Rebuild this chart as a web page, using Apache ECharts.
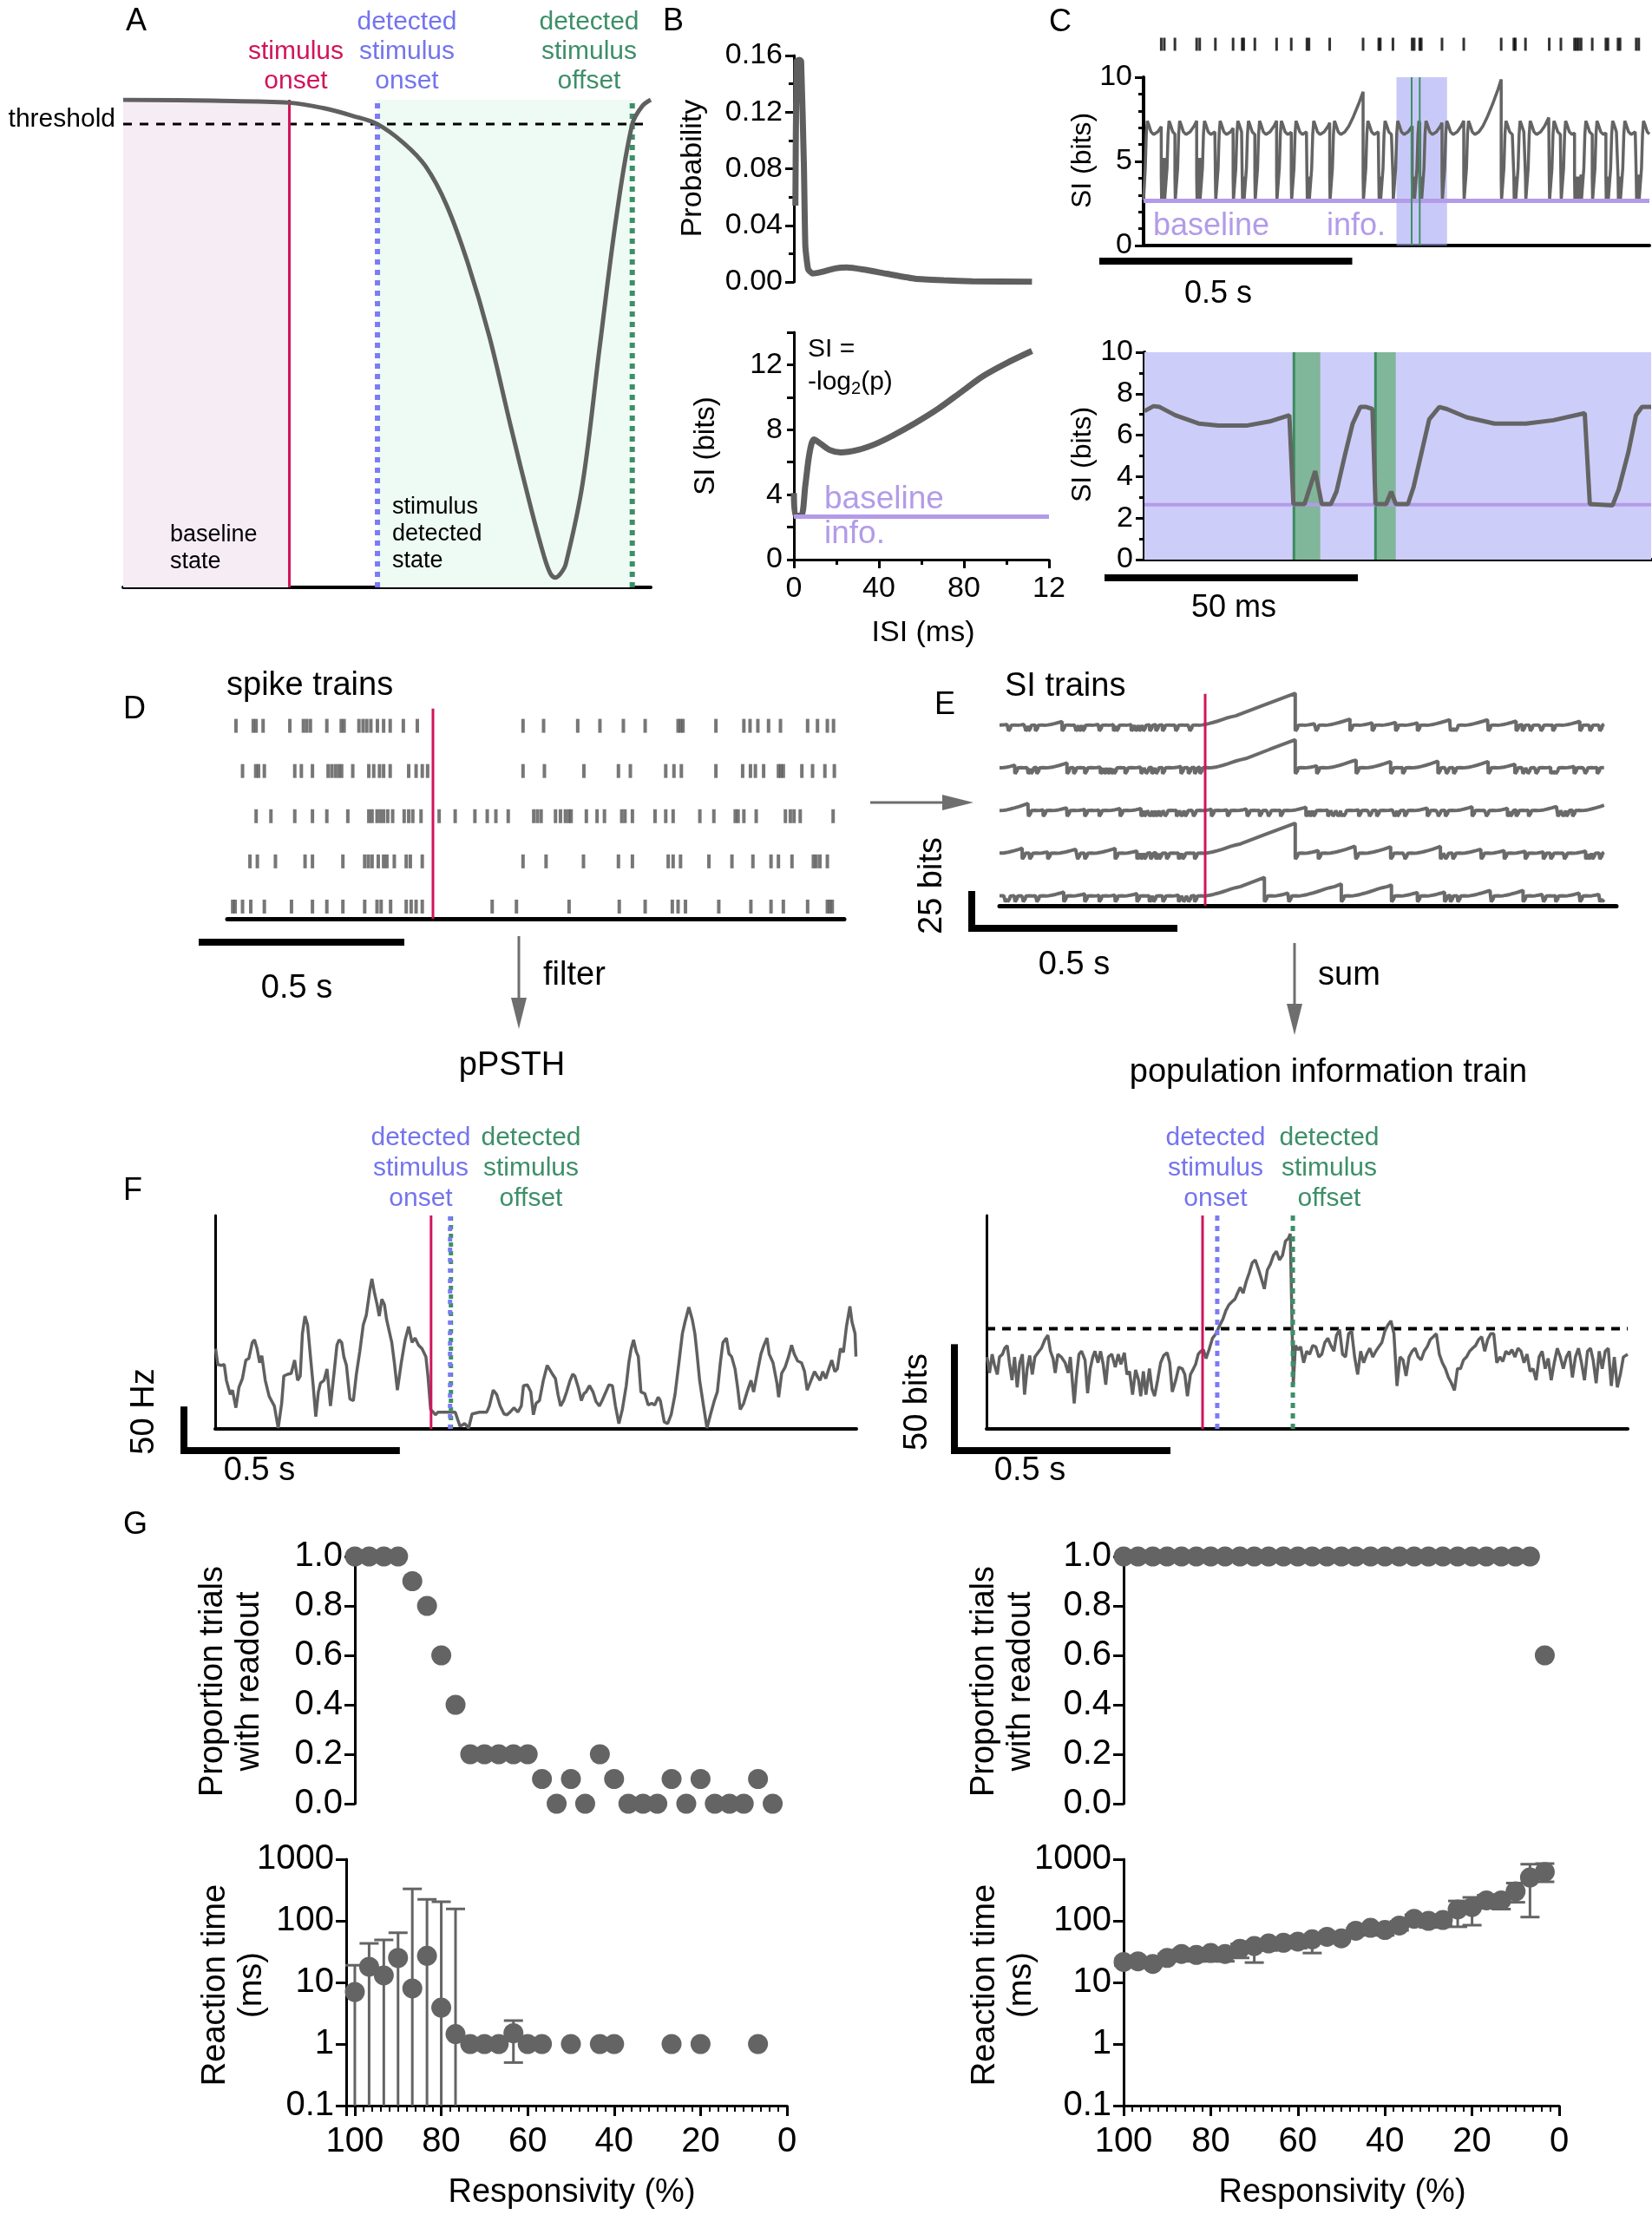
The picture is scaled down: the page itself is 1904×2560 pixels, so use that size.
<!DOCTYPE html>
<html><head><meta charset="utf-8"><title>Information readout figure</title>
<script src="https://cdn.jsdelivr.net/npm/echarts@6.0.0/dist/echarts.min.js"></script>
<style>html,body{margin:0;padding:0;background:#fff;}#chart{width:1904px;height:2560px;}</style>
</head><body><div id="chart"></div>
<script>
// ================= DATA =================
// Panel A: schematic information signal (x: arbitrary time 0-100, y: 0 = bottom, 1 = resting level)
const aTime   = [0, 16.9, 31.5, 37.9, 43.5, 48.2, 53.2, 57.3, 61.3, 65.3, 69.4, 73.4, 77.4, 79.8, 81.0, 81.9, 82.9, 83.9, 87.1, 90.3, 93.5, 96.5, 98.4, 100];
const aSignal = [1.0, 0.998, 0.994, 0.983, 0.967, 0.95, 0.911, 0.864, 0.784, 0.666, 0.515, 0.333, 0.158, 0.063, 0.028, 0.02, 0.028, 0.048, 0.214, 0.491, 0.761, 0.95, 0.987, 1.0];
const aThreshold = 0.95;
const aStimOnset = 31.5, aDetOnset = 48.2, aDetOffset = 96.5;

// Panel B: ISI probability and surprisal (SI) curves
const bIsiMs = [0.7, 1.3, 2.7, 3.4, 4.7, 5.4, 6.7, 8.7, 12.8, 19.5, 24.8, 32.9, 43.6, 57, 70.5, 84, 112];
const bProb  = [0.054, 0.156, 0.157, 0.156, 0.083, 0.025, 0.009, 0.006, 0.007, 0.0096, 0.0102, 0.0087, 0.0058, 0.0023, 0.0012, 0.0005, 0.0001];
const bSiIsiMs = [0, 0.7, 3.4, 5.4, 7.4, 9.4, 11.4, 16.8, 22, 30, 38, 46, 57, 68, 78.5, 89, 100, 112];
const bSiBits  = [4.1, 2.7, 2.7, 4.6, 6.6, 7.4, 7.25, 6.75, 6.6, 6.75, 7.1, 7.6, 8.4, 9.3, 10.3, 11.3, 12.1, 12.85];
// longer ISIs, read from the ramps of the SI trains in panel E
const longIsiMs = [170, 260];
const longSiBits = [19, 28.3];
const baselineInfo = 2.65;

// Panel C: spike raster (s) and zoomed SI train (ms, bits)
const cSpikes = [0.035, 0.041, 0.062, 0.105, 0.111, 0.142, 0.177, 0.195, 0.198, 0.220, 0.263, 0.292, 0.323, 0.327, 0.368, 0.434, 0.465, 0.468, 0.493, 0.531, 0.535, 0.546, 0.549, 0.590, 0.633, 0.707, 0.732, 0.735, 0.755, 0.802, 0.825, 0.852, 0.856, 0.860, 0.865, 0.887, 0.914, 0.918, 0.938, 0.942, 0.974, 0.979];
const cWindow = [0.5, 0.6];
const cGreenTimes = [0.530, 0.546];
const cZoomTrace = [[0,7.16],[1.8,7.4],[3,7.36],[6.1,6.96],[10.7,6.56],[14.6,6.46],[20.1,6.46],[24.7,6.66],[28.6,6.96],[29.4,2.68],[31.6,2.68],[33.7,4.27],[35.0,2.68],[36.8,2.68],[37.9,3.28],[39.5,4.97],[41.1,6.56],[42.6,7.36],[43.8,7.36],[45.0,7.26],[45.6,2.68],[47.7,2.68],[48.7,3.28],[49.6,2.68],[52.0,2.68],[53.1,3.48],[54.7,5.17],[56.2,6.76],[58.2,7.36],[59.7,7.26],[63.6,6.86],[69.1,6.56],[75.3,6.56],[80.7,6.72],[86.9,7.06],[87.9,2.68],[92.4,2.62],[93.6,3.38],[95.5,5.17],[97.0,6.96],[98.2,7.36],[100,7.36]];
const cGreenBars = [[29.5, 34.7], [45.6, 49.6]];

// Panel D: spike trains (s), five neurons; stimulus onset at 0.5 s
const dRow1 = [0.021,0.063,0.070,0.087,0.152,0.185,0.193,0.202,0.242,0.277,0.284,0.320,0.330,0.339,0.349,0.365,0.380,0.396,0.428,0.462,0.719,0.769,0.852,0.906,0.963,1.016,1.096,1.102,1.108,1.188,1.256,1.271,1.290,1.316,1.345,1.411,1.435,1.459,1.474];
const dRow2 = [0.037,0.069,0.076,0.090,0.164,0.180,0.207,0.245,0.254,0.263,0.271,0.278,0.305,0.344,0.356,0.370,0.380,0.396,0.441,0.459,0.474,0.487,0.719,0.771,0.867,0.951,0.980,1.066,1.086,1.104,1.188,1.253,1.272,1.284,1.304,1.340,1.346,1.352,1.397,1.423,1.453,1.476];
const dRow3 = [0.070,0.106,0.164,0.207,0.242,0.293,0.344,0.352,0.364,0.372,0.380,0.390,0.402,0.430,0.441,0.451,0.471,0.515,0.554,0.602,0.632,0.653,0.683,0.745,0.754,0.763,0.798,0.810,0.822,0.830,0.836,0.873,0.899,0.917,0.959,0.967,0.985,1.040,1.066,1.084,1.149,1.183,1.235,1.242,1.256,1.286,1.357,1.369,1.378,1.393,1.473];
const dRow4 = [0.055,0.073,0.117,0.189,0.207,0.281,0.334,0.343,0.352,0.367,0.380,0.388,0.406,0.435,0.445,0.474,0.719,0.775,0.866,0.951,0.985,1.072,1.084,1.102,1.171,1.227,1.278,1.322,1.340,1.373,1.425,1.432,1.441,1.459];
const dRow5 = [0.013,0.019,0.037,0.057,0.090,0.156,0.207,0.242,0.281,0.334,0.364,0.374,0.397,0.435,0.447,0.459,0.474,0.644,0.703,0.831,0.953,1.016,1.082,1.096,1.114,1.195,1.273,1.322,1.352,1.411,1.459,1.465,1.471];
const stimOnsetS = 0.5;

// Panel F: pPSTH (ms, Hz) and population information train (ms, bits)
const fPsth = [[1,91],[6,73],[14,72],[21,73],[26,55],[35,39],[40,44],[48,24],[55,47],[63,57],[71,78],[78,80],[86,98],[91,101],[97,91],[103,75],[108,83],[116,55],[125,37],[137,26],[146,1],[154,29],[159,60],[168,62],[176,63],[184,78],[191,55],[197,60],[202,108],[208,128],[214,118],[222,75],[227,49],[233,14],[239,42],[244,52],[252,55],[259,68],[267,26],[275,62],[282,95],[287,101],[293,98],[298,82],[304,72],[312,34],[320,32],[327,62],[335,88],[343,118],[350,129],[358,157],[363,170],[369,154],[375,141],[380,128],[386,147],[392,141],[397,124],[403,111],[409,98],[415,75],[422,44],[431,75],[440,101],[448,116],[456,98],[463,103],[471,95],[479,91],[488,82],[493,59],[499,22],[505,19],[510,16],[516,19],[544,19],[556,19],[567,3],[578,6],[587,1],[595,17],[612,19],[629,19],[635,26],[644,44],[652,39],[660,26],[669,17],[676,16],[683,19],[692,24],[701,19],[709,26],[714,49],[723,50],[731,42],[737,16],[743,29],[751,32],[760,55],[769,72],[774,68],[780,63],[788,57],[794,39],[800,26],[807,32],[814,42],[822,55],[828,62],[833,60],[841,47],[848,32],[854,40],[859,42],[867,49],[875,42],[882,31],[890,26],[896,32],[905,42],[912,50],[920,49],[927,26],[935,6],[943,22],[952,49],[958,75],[963,90],[969,101],[975,88],[980,82],[986,42],[995,40],[1003,27],[1011,29],[1018,27],[1026,36],[1031,32],[1040,8],[1048,6],[1056,16],[1065,39],[1074,75],[1082,108],[1088,121],[1097,138],[1105,124],[1111,108],[1116,85],[1122,55],[1131,26],[1139,1],[1147,16],[1156,32],[1163,42],[1170,75],[1176,98],[1184,103],[1190,85],[1196,82],[1204,68],[1210,47],[1216,22],[1224,29],[1232,42],[1241,55],[1247,42],[1256,65],[1264,85],[1271,95],[1278,103],[1283,85],[1292,75],[1301,52],[1305,36],[1312,63],[1320,70],[1328,82],[1335,95],[1341,85],[1349,77],[1358,75],[1365,65],[1371,44],[1380,55],[1388,65],[1394,60],[1401,55],[1407,65],[1414,57],[1421,68],[1428,78],[1435,65],[1441,68],[1448,91],[1455,87],[1462,116],[1470,139],[1475,121],[1482,108],[1484,82]];
const fInfo = [[1,33.8],[7,26.3],[13,35.1],[18,30.4],[25,25.6],[30,33.8],[37,35.1],[42,37.9],[48,39.2],[53,31.1],[59,22.9],[65,33.8],[71,19.5],[77,31.1],[83,35.1],[88,16.1],[94,28.3],[100,34.5],[106,25.6],[112,33.8],[119,35.8],[127,37.9],[135,41.9],[142,44.0],[148,36.5],[154,33.1],[159,26.3],[165,35.1],[173,33.8],[182,31.1],[189,26.3],[194,33.8],[203,12.0],[208,24.2],[214,35.1],[220,36.5],[228,32.4],[234,16.8],[240,28.3],[246,33.8],[251,36.5],[258,31.1],[264,36.5],[270,30.4],[276,20.8],[282,33.8],[290,35.1],[298,29.0],[305,35.1],[311,30.4],[319,35.8],[325,25.6],[331,27.0],[338,16.1],[345,27.7],[352,22.9],[357,15.4],[363,27.0],[369,16.1],[377,28.3],[383,18.8],[389,15.4],[396,22.9],[403,31.1],[410,34.5],[418,35.8],[424,31.1],[430,17.4],[438,22.9],[445,29.0],[453,28.3],[459,25.6],[465,15.4],[472,25.6],[479,28.3],[484,30.4],[490,35.1],[496,36.5],[502,37.2],[508,33.1],[515,37.2],[523,42.6],[531,44.7],[540,48.8],[547,51.5],[554,55.6],[561,58.3],[568,59.7],[575,61.0],[581,63.8],[587,66.5],[594,63.8],[601,69.2],[608,73.3],[615,78.1],[622,79.4],[629,75.3],[636,70.6],[643,65.8],[650,74.7],[657,77.4],[664,81.5],[671,83.5],[678,79.4],[685,81.5],[692,88.3],[699,89.6],[703,91.7],[707,92.4],[710,20.8],[715,39.2],[721,37.2],[727,38.6],[734,31.1],[741,36.5],[748,35.1],[755,39.2],[762,38.6],[769,33.8],[776,35.1],[783,40.6],[790,42.6],[797,39.2],[804,36.5],[810,44.0],[817,46.7],[824,35.1],[831,33.8],[838,44.7],[845,46.0],[852,33.8],[859,25.6],[866,36.5],[873,31.1],[880,35.1],[887,37.9],[894,33.8],[901,36.5],[908,38.6],[915,40.6],[922,46.0],[929,48.8],[936,50.8],[943,44.7],[950,20.2],[957,33.8],[964,32.4],[971,24.9],[978,33.8],[985,36.5],[992,37.9],[999,33.8],[1006,32.4],[1013,36.5],[1020,38.6],[1027,42.0],[1034,43.3],[1041,44.7],[1048,35.1],[1055,31.1],[1062,28.3],[1069,24.2],[1076,21.5],[1083,18.1],[1090,28.3],[1097,28.3],[1104,32.4],[1111,33.8],[1118,36.5],[1125,37.9],[1132,39.2],[1139,42.0],[1146,43.3],[1153,36.5],[1160,42.0],[1167,44.7],[1174,44.7],[1181,31.1],[1188,33.8],[1195,31.7],[1202,36.5],[1209,35.1],[1216,37.2],[1223,33.8],[1230,37.9],[1237,36.5],[1244,31.1],[1251,35.1],[1258,27.0],[1265,28.3],[1272,22.9],[1279,33.8],[1286,36.5],[1293,28.3],[1300,33.1],[1307,22.9],[1314,31.1],[1321,37.9],[1328,33.8],[1335,28.3],[1342,33.8],[1349,36.5],[1356,24.2],[1363,33.8],[1370,37.9],[1377,31.1],[1384,22.9],[1391,36.5],[1398,37.9],[1404,32.4],[1411,21.5],[1418,36.5],[1425,28.3],[1432,36.5],[1439,37.9],[1446,20.2],[1453,33.8],[1460,19.5],[1467,25.6],[1474,33.8],[1484,35.1]];
const fOnsetMs = 500;
const fPsthDetOn = 544, fPsthDetOff = 546;
const fInfoDetOn = 534, fInfoDetOff = 709, fInfoThreshold = 47.1;

// Panel G: readout vs responsivity
const gResp = [100, 96.7, 93.3, 90, 86.7, 83.3, 80, 76.7, 73.3, 70, 66.7, 63.3, 60, 56.7, 53.3, 50, 46.7, 43.3, 40, 36.7, 33.3, 30, 26.7, 23.3, 20, 16.7, 13.3, 10, 6.7, 3.3];
const gPropPsth = [1,1,1,1,0.9,0.8,0.6,0.4,0.2,0.2,0.2,0.2,0.2,0.1,0,0.1,0,0.2,0.1,0,0,0,0.1,0,0.1,0,0,0,0.1,0];
const gPropInfo = [1,1,1,1,1,1,1,1,1,1,1,1,1,1,1,1,1,1,1,1,1,1,1,1,1,1,1,1,1,0.6];
const gRtPsth     = [7, 18, 13, 25, 8, 27, 3.9, 1.45, 1, 1, 1, 1.5, 1, 1, null, 1, null, 1, 1, null, null, null, 1, null, 1, null, null, null, 1, null];
const gRtPsthLow  = [0.1, 0.1, 0.1, 0.1, 0.1, 0.1, 0.1, 0.1, null, null, null, 0.5, null, null, null, null, null, null, null, null, null, null, null, null, null, null, null, null, null, null];
const gRtPsthHigh = [19, 43, 49, 64, 330, 223, 204, 156, null, null, null, 2.4, null, null, null, null, null, null, null, null, null, null, null, null, null, null, null, null, null, null];
const gRtInfo     = [21.5, 22, 20, 25, 29, 28, 30, 29, 35, 39, 43, 44, 46, 50, 55, 52, 69, 77, 71, 84, 108, 100, 103, 153, 167, 215, 215, 300, 505, 620];
const gRtInfoLow  = [19, 20, 18, 22, 23, 22, 22, 22, 25, 21, 33, 38, 36, 30, 45, 47, 58, 65, 58, 70, 85, 78, 85, 80, 85, 160, 155, 200, 115, 430];
const gRtInfoHigh = [24, 24, 22, 29, 34, 34, 36, 34, 42, 46, 50, 50, 56, 58, 62, 62, 76, 85, 84, 98, 125, 118, 125, 210, 240, 260, 260, 410, 830, 850];

// ================= STYLE / LAYOUT =================
const FONT = '"Liberation Sans", Arial, Helvetica, sans-serif';
const GREY = '#646464', RED = '#d2145a', BLUE = '#7b7bf5', BLUE_T = '#7474ee', GREEN = '#3d8f68', LAV = '#b39be8';

// SI lookup built from the panel-B curve (plus the long-ISI values)
const siKnotsMs = bSiIsiMs.concat(longIsiMs);
const siKnotsBits = bSiBits.concat(longSiBits);
function siLookup(tau) {
  if (tau <= siKnotsMs[0]) return siKnotsBits[0];
  for (let i = 1; i < siKnotsMs.length; i++) {
    if (tau <= siKnotsMs[i]) {
      const f = (tau - siKnotsMs[i-1]) / (siKnotsMs[i] - siKnotsMs[i-1]);
      return siKnotsBits[i-1] + f * (siKnotsBits[i] - siKnotsBits[i-1]);
    }
  }
  return siKnotsBits[siKnotsBits.length - 1];
}
function siTrain(spikes, tEnd, startTauMs, offset) {
  const pts = [[0, siLookup(startTauMs) + offset]];
  let prev = -startTauMs / 1000;
  const stops = spikes.filter(s => s > 0 && s < tEnd).concat([tEnd]);
  stops.forEach(stop => {
    for (const k of siKnotsMs) {
      const t = prev + k / 1000;
      if (t >= stop) break;
      if (t > 0) pts.push([t, siLookup(k) + offset]);
    }
    pts.push([stop, siLookup((stop - prev) * 1000) + offset]);
    prev = stop;
  });
  return pts;
}

const grids = [
  {left:142, top:115, width:608, height:562},   // 0 A
  {left:915, top:64, width:294, height:261},    // 1 B top
  {left:915, top:383, width:294, height:262},   // 2 B bottom
  {left:1318, top:43, width:583, height:16},    // 3 C raster
  {left:1318, top:89, width:583, height:194},   // 4 C top
  {left:1319, top:406, width:584, height:239},  // 5 C bottom
  {left:262, top:809, width:711, height:250},   // 6 D
  {left:1152, top:786, width:711, height:258},  // 7 E
  {left:248, top:1401, width:739, height:246},  // 8 F left
  {left:1137, top:1401, width:739, height:246}, // 9 F right
  {left:409, top:1794, width:498, height:285},  // 10 G left top
  {left:399, top:2143, width:508, height:284},  // 11 G left bottom
  {left:1295, top:1794, width:502, height:285}, // 12 G right top
  {left:1295, top:2143, width:502, height:284}  // 13 G right bottom
].map(g => Object.assign({outerBoundsMode:'none', containLabel:false}, g));

const lineOnly = w => ({axisLine:{show:true, onZero:false, lineStyle:{color:'#000', width:w}}, axisTick:{show:false}, axisLabel:{show:false}, splitLine:{show:false}});
const hidden = (gi, min, max, inv) => ({gridIndex:gi, type:'value', min, max, inverse:!!inv, show:false, splitLine:{show:false}});
const tickAxis = (o) => Object.assign({
  type:'value', splitLine:{show:false}, minorSplitLine:{show:false},
  axisLine:{show:true, onZero:false, lineStyle:{color:'#000', width:3}},
  axisTick:{show:true, length:10, lineStyle:{color:'#000', width:3}},
}, o);

const xAxes = [
  Object.assign({gridIndex:0, type:'value', min:0, max:100}, lineOnly(4)),
  hidden(1, 0, 120),
  tickAxis({gridIndex:2, min:0, max:120, interval:40,
    minorTick:{show:true, splitNumber:2, length:6, lineStyle:{color:'#000', width:3}},
    axisLabel:{fontSize:34, fontFamily:FONT, color:'#000', margin:17, formatter: v => v === 120 ? '12' : String(v)}}),
  hidden(3, 0, 1),
  Object.assign({gridIndex:4, type:'value', min:0, max:1}, lineOnly(4)),
  Object.assign({gridIndex:5, type:'value', min:0, max:100}, lineOnly(4)),
  Object.assign({gridIndex:6, type:'value', min:0, max:1.5}, lineOnly(5)),
  Object.assign({gridIndex:7, type:'value', min:0, max:1.5}, lineOnly(5)),
  Object.assign({gridIndex:8, type:'value', min:0, max:1485}, lineOnly(4)),
  Object.assign({gridIndex:9, type:'value', min:0, max:1484}, lineOnly(4)),
  hidden(10, 0, 100, true),
  tickAxis({gridIndex:11, min:0, max:102, interval:20, inverse:true,
    axisTick:{show:true, length:12, lineStyle:{color:'#000', width:3}},
    minorTick:{show:true, splitNumber:10, length:7, lineStyle:{color:'#000', width:2}},
    axisLabel:{fontSize:40, fontFamily:FONT, color:'#000', margin:22, formatter: v => (v % 20 === 0 ? String(v) : '')}}),
  hidden(12, 0, 100, true),
  tickAxis({gridIndex:13, min:0, max:100, interval:20, inverse:true,
    axisTick:{show:true, length:12, lineStyle:{color:'#000', width:3}},
    minorTick:{show:true, splitNumber:10, length:7, lineStyle:{color:'#000', width:2}},
    axisLabel:{fontSize:40, fontFamily:FONT, color:'#000', margin:22}})
];
const propAxis = gi => tickAxis({gridIndex:gi, min:0, max:1, interval:0.2,
  axisTick:{show:true, length:12, lineStyle:{color:'#000', width:3}},
  axisLabel:{fontSize:40, fontFamily:FONT, color:'#000', margin:14, formatter: v => v.toFixed(1)}});
const rtAxis = gi => ({gridIndex:gi, type:'log', logBase:10, min:0.1, max:1000, splitLine:{show:false},
  axisLine:{show:true, onZero:false, lineStyle:{color:'#000', width:3}},
  axisTick:{show:true, length:12, lineStyle:{color:'#000', width:3}},
  axisLabel:{fontSize:40, fontFamily:FONT, color:'#000', margin:14, formatter: v => (v < 1 ? (+v).toFixed(1) : String(Math.round(v)))}});
const yAxes = [
  hidden(0, 0, 1),
  tickAxis({gridIndex:1, min:0, max:0.16, interval:0.04,
    minorTick:{show:true, splitNumber:2, length:6, lineStyle:{color:'#000', width:3}},
    axisLabel:{fontSize:34, fontFamily:FONT, color:'#000', margin:13, formatter: v => v.toFixed(2)}}),
  tickAxis({gridIndex:2, min:0, max:14, interval:2, axisTick:{show:true, length:8, lineStyle:{color:'#000', width:3}},
    axisLabel:{fontSize:34, fontFamily:FONT, color:'#000', margin:13, formatter: v => (v % 4 === 0 ? String(v) : '')}}),
  hidden(3, 0, 1),
  tickAxis({gridIndex:4, min:0, max:10, interval:5,
    minorTick:{show:true, splitNumber:5, length:6, lineStyle:{color:'#000', width:3}},
    axisLine:{show:true, onZero:false, lineStyle:{color:'#000', width:4}},
    axisLabel:{fontSize:34, fontFamily:FONT, color:'#000', margin:13}}),
  tickAxis({gridIndex:5, min:0, max:10, interval:2,
    minorTick:{show:true, splitNumber:2, length:6, lineStyle:{color:'#000', width:3}},
    axisLine:{show:true, onZero:false, lineStyle:{color:'#000', width:4}},
    axisLabel:{fontSize:34, fontFamily:FONT, color:'#000', margin:13}}),
  hidden(6, 0, 4.8),
  hidden(7, 0, 150),
  Object.assign({gridIndex:8, type:'value', min:0, max:242}, lineOnly(3)),
  Object.assign({gridIndex:9, type:'value', min:0, max:100.3}, lineOnly(3)),
  propAxis(10), rtAxis(11), propAxis(12), rtAxis(13)
];

// ---------- series helpers ----------
function seg(gi, data, color, width, type, z, smooth) {
  return {type:'line', xAxisIndex:gi, yAxisIndex:gi, data, symbol:'none', silent:true, z: z || 3,
    smooth: smooth || false, lineStyle:{color, width, type: type || 'solid', cap:'butt'}};
}
function band(gi, x0, x1, ytop, color, z) {
  return {type:'line', xAxisIndex:gi, yAxisIndex:gi, data:[[x0, ytop], [x1, ytop]], symbol:'none', silent:true,
    z: z || 1, lineStyle:{width:0, color}, areaStyle:{color, opacity:1, origin:'start'}};
}
function errBar(params, api) {
  const x = api.value(0), lo = api.value(1), hi = api.value(2), capLo = api.value(3);
  const a = api.coord([x, hi]), b = api.coord([x, lo]);
  const hw = 11, st = {stroke: GREY, lineWidth: 3};
  const ch = [
    {type:'line', shape:{x1:a[0], y1:a[1], x2:b[0], y2:b[1]}, style: st},
    {type:'line', shape:{x1:a[0]-hw, y1:a[1], x2:a[0]+hw, y2:a[1]}, style: st}];
  if (capLo) ch.push({type:'line', shape:{x1:b[0]-hw, y1:b[1], x2:b[0]+hw, y2:b[1]}, style: st});
  return {type:'group', children: ch};
}
const dot = (gi, data) => ({type:'scatter', xAxisIndex:gi, yAxisIndex:gi, data, symbol:'circle', symbolSize:23,
  itemStyle:{color:GREY, opacity:1}, z:5, silent:true});

const series = [];
// ---- A ----
series.push(band(0, 0, aStimOnset, 1, '#f6ecf4', 1));
series.push(band(0, aDetOnset, aDetOffset, 1, '#eefbf4', 1));
series.push(seg(0, [[0, aThreshold], [100, aThreshold]], '#000', 3, [10, 9], 3));
series.push(seg(0, [[aStimOnset, 0], [aStimOnset, 1]], RED, 3, 'solid', 3));
series.push(seg(0, [[aDetOnset, 0], [aDetOnset, 1]], BLUE, 6, [6, 6], 3));
series.push(seg(0, [[aDetOffset, 0], [aDetOffset, 1]], GREEN, 6, [6, 6], 3));
series.push(seg(0, aTime.map((t, i) => [t, aSignal[i]]), '#606060', 5, 'solid', 4, 0.35));
// ---- B ----
series.push(seg(1, bIsiMs.map((t, i) => [t, bProb[i]]), '#5f5f5f', 7, 'solid', 4, 0.15));
series.push(seg(2, bSiIsiMs.map((t, i) => [t, bSiBits[i]]), '#5f5f5f', 7, 'solid', 4, 0.3));
series.push(seg(2, [[0, baselineInfo], [120, baselineInfo]], LAV, 5, 'solid', 5));
// ---- C ----
series.push({type:'scatter', xAxisIndex:3, yAxisIndex:3, data: cSpikes.map(t => [t, 0.5]), symbol:'rect',
  symbolSize:[3, 15], itemStyle:{color:'#000'}, silent:true});
series.push(band(4, cWindow[0], cWindow[1], 10, 'rgba(165,165,245,0.6)', 1));
series.push(seg(4, siTrain(cSpikes, 1.0, 2, 0), GREY, 3.5, 'solid', 3));
series.push(seg(4, [[0, baselineInfo], [1, baselineInfo]], LAV, 5, 'solid', 4));
cGreenTimes.forEach(t => series.push(seg(4, [[t, 0], [t, 10]], GREEN, 2, 'solid', 5)));
series.push(band(5, 0, 100, 10, '#cdcdfa', 1));
cGreenBars.forEach(b => {
  series.push(band(5, b[0], b[1], 10, '#80b69a', 2));
  series.push(seg(5, [[b[0], 0], [b[0], 10]], '#3a8c5c', 3, 'solid', 2));
});
series.push(seg(5, [[0, baselineInfo], [100, baselineInfo]], LAV, 4, 'solid', 3));
series.push(seg(5, cZoomTrace, GREY, 5, 'solid', 4));
// ---- D ----
const dRows = [dRow1, dRow2, dRow3, dRow4, dRow5];
dRows.forEach((row, k) => series.push({type:'scatter', xAxisIndex:6, yAxisIndex:6, silent:true,
  data: row.map(t => [t, 4.27 - k]), symbol:'rect', symbolSize:[4, 16], itemStyle:{color:'#555'}}));
series.push(seg(6, [[stimOnsetS, 0], [stimOnsetS, 4.65]], RED, 3, 'solid', 5));
// ---- E ----
const eOffsets = [114.4, 85.8, 57.2, 28.6, 0];
dRows.forEach((row, k) => series.push(seg(7, siTrain(row, 1.47, 20, eOffsets[k]), '#6a6a6a', 4, 'solid', 3)));
series.push(seg(7, [[stimOnsetS, 0], [stimOnsetS, 142]], RED, 3, 'solid', 5));
// ---- F ----
series.push(seg(8, fPsth, '#606060', 3.5, 'solid', 3));
series.push(seg(8, [[fOnsetMs, 0], [fOnsetMs, 242]], RED, 3, 'solid', 4));
series.push(seg(8, [[fPsthDetOff, 0], [fPsthDetOff, 242]], GREEN, 5, [5, 5], 4));
series.push(seg(8, [[fPsthDetOn, 0], [fPsthDetOn, 242]], BLUE, 5, [5, 7], 5));
series.push(seg(9, [[0, fInfoThreshold], [1484, fInfoThreshold]], '#000', 4, [10, 8], 2));
series.push(seg(9, fInfo, '#606060', 3.5, 'solid', 3));
series.push(seg(9, [[fOnsetMs, 0], [fOnsetMs, 100.3]], RED, 3, 'solid', 4));
series.push(seg(9, [[fInfoDetOn, 0], [fInfoDetOn, 100.3]], BLUE, 5, [6, 6], 4));
series.push(seg(9, [[fInfoDetOff, 0], [fInfoDetOff, 100.3]], GREEN, 5, [6, 6], 4));
// ---- G ----
series.push(dot(10, gResp.map((r, i) => [r, gPropPsth[i]])));
series.push(dot(12, gResp.map((r, i) => [r, gPropInfo[i]])));
series.push({type:'custom', xAxisIndex:11, yAxisIndex:11, renderItem: errBar, z:3, silent:true,
  encode:{x:0, y:[1, 2]},
  data: gResp.map((r, i) => gRtPsthHigh[i] == null ? null : [r, gRtPsthLow[i], gRtPsthHigh[i], gRtPsthLow[i] > 0.1 ? 1 : 0]).filter(Boolean)});
series.push(dot(11, gResp.map((r, i) => gRtPsth[i] == null ? null : [r, gRtPsth[i]]).filter(Boolean)));
series.push({type:'custom', xAxisIndex:13, yAxisIndex:13, renderItem: errBar, z:3, silent:true,
  encode:{x:0, y:[1, 2]},
  data: gResp.map((r, i) => [r, gRtInfoLow[i], gRtInfoHigh[i], 1])});
series.push(dot(13, gResp.map((r, i) => [r, gRtInfo[i]])));

// ---------- text ----------
function T(text, x, y, o) {
  o = o || {};
  const st = {text, fill: o.color || '#000', fontSize: o.size || 32, fontFamily: FONT,
    textAlign: o.align || 'center', textVerticalAlign: 'middle', align: o.align || 'center', verticalAlign: 'middle'};
  if (o.lh) st.lineHeight = o.lh;
  if (o.rich) st.rich = o.rich;
  return {type:'text', x, y, rotation: o.rot || 0, z: 100, silent: true, style: st};
}
const R90 = Math.PI / 2;
const texts = [
  // A
  T('A', 157, 25, {size:36}),
  T('threshold', 133, 138, {size:30, align:'right'}),
  T('stimulus\nonset', 341, 77, {size:30, lh:34, color:RED}),
  T('detected\nstimulus\nonset', 469, 60, {size:30, lh:34, color:BLUE_T}),
  T('detected\nstimulus\noffset', 679, 60, {size:30, lh:34, color:GREEN}),
  T('baseline\nstate', 196, 632, {size:27, lh:31, align:'left'}),
  T('stimulus\ndetected\nstate', 452, 616, {size:27, lh:31, align:'left'}),
  // B
  T('B', 776, 25, {size:36}),
  T('Probability', 799, 194, {size:34, rot:R90}),
  T('SI (bits)', 814, 514, {size:33, rot:R90}),
  T('SI =', 931, 403, {size:30, align:'left'}),
  T('-log{s|2}(p)', 931, 441, {size:30, align:'left', rich:{s:{fontSize:20, fontFamily:FONT, padding:[14, 0, 0, 0]}}}),
  T('baseline\ninfo.', 950, 596, {size:37, lh:40, align:'left', color:LAV}),
  T('ISI (ms)', 1064, 730, {size:34}),
  // C
  T('C', 1222, 26, {size:36}),
  T('SI (bits)', 1248, 185, {size:32, rot:R90}),
  T('SI (bits)', 1248, 524, {size:32, rot:R90}),
  T('baseline', 1329, 261, {size:36, align:'left', color:LAV}),
  T('info.', 1529, 261, {size:36, align:'left', color:LAV}),
  T('0.5 s', 1404, 339, {size:36}),
  T('50 ms', 1422, 701, {size:36}),
  // D
  T('D', 155, 818, {size:36}),
  T('spike trains', 261, 791, {size:38, align:'left'}),
  T('0.5 s', 342, 1140, {size:38}),
  T('filter', 626, 1125, {size:38, align:'left'}),
  T('pPSTH', 590, 1229, {size:38}),
  // E
  T('E', 1089, 813, {size:36}),
  T('SI trains', 1158, 792, {size:38, align:'left'}),
  T('25 bits', 1075, 1021, {size:38, rot:R90}),
  T('0.5 s', 1238, 1113, {size:38}),
  T('sum', 1519, 1125, {size:38, align:'left'}),
  T('population information train', 1531, 1237, {size:38}),
  // F
  T('F', 153, 1373, {size:36}),
  T('detected\nstimulus\nonset', 485, 1347, {size:30, lh:35, color:BLUE_T}),
  T('detected\nstimulus\noffset', 612, 1347, {size:30, lh:35, color:GREEN}),
  T('50 Hz', 167, 1627, {size:38, rot:R90}),
  T('0.5 s', 299, 1696, {size:38}),
  T('detected\nstimulus\nonset', 1401, 1347, {size:30, lh:35, color:BLUE_T}),
  T('detected\nstimulus\noffset', 1532, 1347, {size:30, lh:35, color:GREEN}),
  T('50 bits', 1058, 1616, {size:38, rot:R90}),
  T('0.5 s', 1187, 1696, {size:38}),
  // G
  T('G', 156, 1758, {size:36}),
  T('Proportion trials\nwith readout', 267, 1938, {size:38, lh:42, rot:R90}),
  T('Reaction time\n(ms)', 270, 2288, {size:38, lh:42, rot:R90}),
  T('Responsivity (%)', 659, 2528, {size:38}),
  T('Proportion trials\nwith readout', 1156, 1938, {size:38, lh:42, rot:R90}),
  T('Reaction time\n(ms)', 1157, 2288, {size:38, lh:42, rot:R90}),
  T('Responsivity (%)', 1547, 2528, {size:38})
];

const chart = echarts.init(document.getElementById('chart'), null, {renderer:'canvas', width:1904, height:2560});
chart.setOption({animation:false, backgroundColor:'#fff', grid:grids, xAxis:xAxes, yAxis:yAxes, series, graphic:texts});

// ---------- scale bars and arrows (lengths taken from the axes' own scales) ----------
const P = (g, v) => chart.convertToPixel({xAxisIndex:g, yAxisIndex:g}, v);
const lenX = (g, d) => Math.abs(P(g, [d, 0])[0] - P(g, [0, 0])[0]);
const lenY = (g, d) => Math.abs(P(g, [0, 0])[1] - P(g, [0, d])[1]);
const rect = (x, y, w, h) => ({type:'rect', shape:{x, y, width:w, height:h}, style:{fill:'#000'}, z:100, silent:true});
function hBar(x, y, L) { return rect(x, y - 4, L, 8); }
function lBar(cx, cy, H, V) { return [rect(cx - 4, cy - V, 8, V + 4), rect(cx - 4, cy - 4, H + 4, 8)]; }
function arrow(x1, y1, x2, y2) {
  const ang = Math.atan2(y2 - y1, x2 - x1), hl = 36, hw = 9;
  const bx = x2 - hl * Math.cos(ang), by = y2 - hl * Math.sin(ang);
  const nx = -Math.sin(ang) * hw, ny = Math.cos(ang) * hw;
  return [
    {type:'line', shape:{x1, y1, x2:bx, y2:by}, style:{stroke:'#6e6e6e', lineWidth:3}, z:100, silent:true},
    {type:'polygon', shape:{points:[[x2, y2], [bx + nx, by + ny], [bx - nx, by - ny]]}, style:{fill:'#6e6e6e'}, z:100, silent:true}
  ];
}
const extras = [].concat(
  [hBar(1267, 301, lenX(4, 0.5)), hBar(1273, 666, lenX(5, 50)), hBar(229, 1086, lenX(6, 0.5))],
  lBar(1120, 1070, lenX(7, 0.5), lenY(7, 25)),
  lBar(212, 1672, lenX(8, 500), lenY(8, 50)),
  lBar(1100, 1672, lenX(9, 500), lenY(9, 50)),
  arrow(598, 1079, 598, 1186),
  arrow(1003, 925, 1122, 925),
  arrow(1492, 1087, 1492, 1193)
);
chart.setOption({graphic: texts.concat(extras)});
</script></body></html>
